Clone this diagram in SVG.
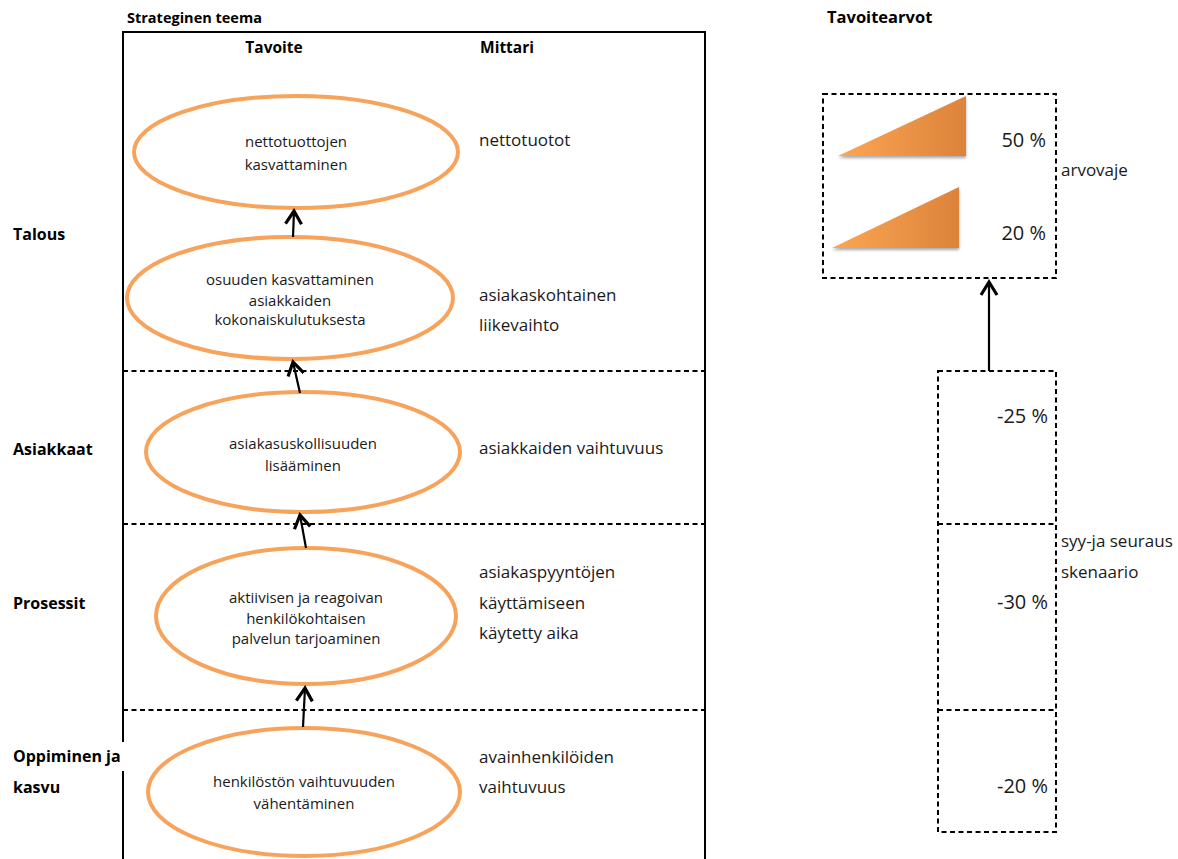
<svg xmlns="http://www.w3.org/2000/svg" width="1178" height="859" viewBox="0 0 1178 859">
  <style>
    text { font-family: "Open Sans", "Liberation Sans", sans-serif; fill: #1a1a1a; }
    .hdr { font-weight: bold; font-size: 15.5px; fill: #000; }
    .lbl { font-weight: bold; font-size: 16px; fill: #000; }
    .goal { font-size: 15px; text-anchor: middle; }
    .meas { font-size: 17px; }
    .pct { font-size: 20px; text-anchor: end; }
    .note { font-size: 17px; }
    .oval { fill: #fff; stroke: #F7A35C; stroke-width: 4; }
    .frame { fill: none; stroke: #000; stroke-width: 2; }
    .dash { fill: none; stroke: #000; stroke-width: 2; stroke-dasharray: 5 3.5; }
    .link { fill: none; stroke: #000; stroke-width: 2.2; marker-end: url(#chev); }
  </style>
  <defs>
    <marker id="chev" viewBox="-16 -10 20 20" refX="0" refY="0" markerWidth="20" markerHeight="20" markerUnits="userSpaceOnUse" orient="auto">
      <path d="M-13,-8 L0,0 L-13,8" fill="none" stroke="#000" stroke-width="3.2" stroke-linejoin="miter"/>
    </marker>
    <linearGradient id="wedge" x1="0" y1="0" x2="1" y2="0">
      <stop offset="0" stop-color="#FCA653"/>
      <stop offset="1" stop-color="#DC833A"/>
    </linearGradient>
    <filter id="soft" x="-10%" y="-10%" width="120%" height="130%">
      <feGaussianBlur in="SourceAlpha" stdDeviation="1.5"/>
      <feOffset dx="0" dy="2" result="b"/>
      <feComponentTransfer><feFuncA type="linear" slope="0.35"/></feComponentTransfer>
      <feMerge><feMergeNode/><feMergeNode in="SourceGraphic"/></feMerge>
    </filter>
  </defs>

  <rect width="1178" height="859" fill="#fff"/>

  <!-- headers -->
  <text class="hdr" x="127" y="23" style="font-size:14.5px">Strateginen teema</text>
  <text class="hdr" x="827" y="23" style="font-size:16.5px">Tavoitearvot</text>

  <!-- strategy table frame and perspective dividers -->
  <g id="table">
    <path class="frame" d="M123,870 V32 H705 V870"/>
    <line class="dash" x1="123" y1="371" x2="705" y2="371"/>
    <line class="dash" x1="123" y1="524" x2="705" y2="524"/>
    <line class="dash" x1="123" y1="710" x2="705" y2="710"/>
    <text class="hdr" x="274" y="53" text-anchor="middle">Tavoite</text>
    <text class="hdr" x="507" y="53" text-anchor="middle">Mittari</text>
  </g>

  <!-- perspective labels -->
  <g id="perspectives">
    <text class="lbl" x="13" y="240">Talous</text>
    <text class="lbl" x="13" y="455">Asiakkaat</text>
    <text class="lbl" x="13" y="609">Prosessit</text>
    <rect x="0" y="742" width="126" height="29" fill="#fff"/>
    <text class="lbl" x="13" y="762">Oppiminen ja</text>
    <text class="lbl" x="13" y="793">kasvu</text>
  </g>

  <!-- objectives -->
  <g id="goal-nettotuotot">
    <ellipse class="oval" cx="296" cy="152" rx="162" ry="56"/>
    <text class="goal" x="296" y="147">nettotuottojen</text>
    <text class="goal" x="296" y="170">kasvattaminen</text>
  </g>
  <g id="goal-osuus">
    <ellipse class="oval" cx="290" cy="298" rx="163" ry="61"/>
    <text class="goal" x="290" y="285">osuuden kasvattaminen</text>
    <text class="goal" x="290" y="306">asiakkaiden</text>
    <text class="goal" x="290" y="325">kokonaiskulutuksesta</text>
  </g>
  <g id="goal-uskollisuus">
    <ellipse class="oval" cx="303" cy="452" rx="157" ry="60"/>
    <text class="goal" x="303" y="449">asiakasuskollisuuden</text>
    <text class="goal" x="303" y="471">lisääminen</text>
  </g>
  <g id="goal-palvelu">
    <ellipse class="oval" cx="306" cy="616" rx="150" ry="68"/>
    <text class="goal" x="306" y="603">aktiivisen ja reagoivan</text>
    <text class="goal" x="306" y="624">henkilökohtaisen</text>
    <text class="goal" x="306" y="644">palvelun tarjoaminen</text>
  </g>
  <g id="goal-henkilosto">
    <ellipse class="oval" cx="304" cy="792" rx="156" ry="64"/>
    <text class="goal" x="304" y="787">henkilöstön vaihtuvuuden</text>
    <text class="goal" x="304" y="809">vähentäminen</text>
  </g>

  <!-- measures -->
  <g id="measures">
    <text class="meas" x="479" y="146">nettotuotot</text>
    <text class="meas" x="479" y="301">asiakaskohtainen</text>
    <text class="meas" x="479" y="331">liikevaihto</text>
    <text class="meas" x="479" y="454">asiakkaiden vaihtuvuus</text>
    <text class="meas" x="479" y="578">asiakaspyyntöjen</text>
    <text class="meas" x="479" y="609">käyttämiseen</text>
    <text class="meas" x="479" y="639">käytetty aika</text>
    <text class="meas" x="479" y="763">avainhenkilöiden</text>
    <text class="meas" x="479" y="793">vaihtuvuus</text>
  </g>

  <!-- target values: value wedge -->
  <g id="arvovaje">
    <rect class="dash" x="823" y="94" width="233" height="184"/>
    <polygon points="838,156 966,96 966,156" fill="url(#wedge)" filter="url(#soft)"/>
    <polygon points="832,248 959,187 959,248" fill="url(#wedge)" filter="url(#soft)"/>
    <text class="pct" x="1046" y="147">50 %</text>
    <text class="pct" x="1046" y="240">20 %</text>
    <text class="note" x="1061" y="176">arvovaje</text>
  </g>

  <!-- target values: cause and effect scenario -->
  <g id="skenaario">
    <rect class="dash" x="938" y="371" width="118" height="461"/>
    <line class="dash" x1="938" y1="524" x2="1056" y2="524"/>
    <line class="dash" x1="938" y1="710" x2="1056" y2="710"/>
    <text class="pct" x="1048" y="423">-25 %</text>
    <text class="pct" x="1048" y="609">-30 %</text>
    <text class="pct" x="1048" y="793">-20 %</text>
    <text class="note" x="1061" y="547">syy-ja seuraus</text>
    <text class="note" x="1061" y="578">skenaario</text>
  </g>

  <!-- connectors -->
  <g id="connectors">
    <line class="link" x1="293" y1="237" x2="294" y2="211"/>
    <line class="link" x1="300" y1="393" x2="293" y2="362"/>
    <line class="link" x1="306" y1="548" x2="300" y2="515"/>
    <line class="link" x1="303" y1="727" x2="305" y2="688"/>
    <line class="link" x1="989" y1="371" x2="989" y2="282"/>
  </g>
</svg>
